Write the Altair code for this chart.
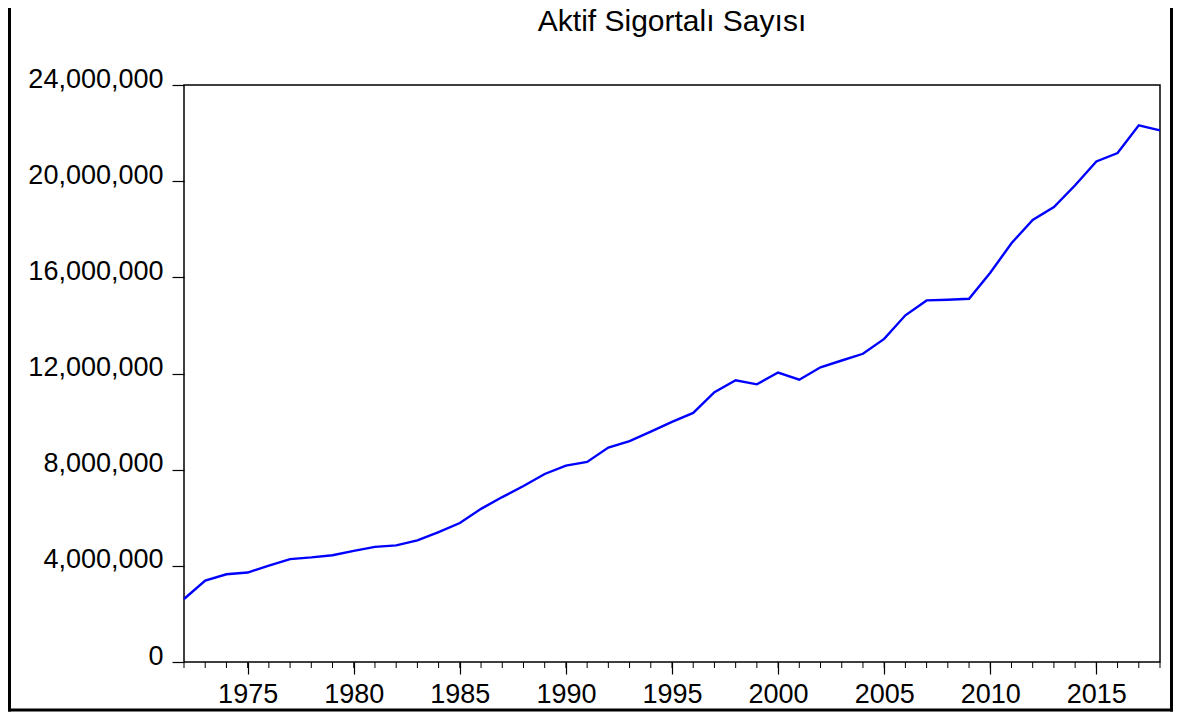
import altair as alt
import pandas as pd

# ---- data ----
years = [1972, 1973, 1974, 1975, 1976, 1977, 1978, 1979, 1980, 1981,
         1982, 1983, 1984, 1985, 1986, 1987, 1988, 1989, 1990, 1991,
         1992, 1993, 1994, 1995, 1996, 1997, 1998, 1999, 2000, 2001,
         2002, 2003, 2004, 2005, 2006, 2007, 2008, 2009, 2010, 2011,
         2012, 2013, 2014, 2015, 2016, 2017, 2018]
insured = [2620000, 3390000, 3650000, 3720000, 4010000, 4280000, 4350000, 4440000, 4620000, 4790000,
           4850000, 5060000, 5400000, 5780000, 6370000, 6860000, 7320000, 7820000, 8170000, 8320000,
           8920000, 9190000, 9580000, 9990000, 10360000, 11220000, 11720000, 11550000, 12040000, 11740000,
           12260000, 12540000, 12820000, 13440000, 14420000, 15040000, 15070000, 15110000, 16190000, 17420000,
           18390000, 18920000, 19830000, 20820000, 21170000, 22320000, 22110000]
major_years = [1975, 1980, 1985, 1990, 1995, 2000, 2005, 2010, 2015]
y_ticks = [0, 4000000, 8000000, 12000000, 16000000, 20000000, 24000000]
title_text = "Aktif Sigortalı Sayısı"

df = pd.DataFrame({"year": years, "value": insured})

W, H = 976, 577
PAD = {"left": 176, "top": 77, "right": 13, "bottom": 50}
FONT = "Liberation Sans"

x_scale = alt.Scale(domain=[1972, 2018], nice=False, zero=False)
y_scale = alt.Scale(domain=[0, 24000000], nice=False)

line = alt.Chart(df).mark_line(color="#0000FF", strokeWidth=2.4).encode(
    x=alt.X("year:Q", scale=x_scale, title=None,
            axis=alt.Axis(values=major_years, format="d", tickSize=12,
                          labelPadding=7, labelBaseline="top", grid=False,
                          domain=False)),
    y=alt.Y("value:Q", scale=y_scale, title=None,
            axis=alt.Axis(values=y_ticks, format=",.0f", tickSize=12,
                          labelPadding=9, labelOffset=-6, grid=False,
                          domain=False)),
)

minor = alt.Chart(df).mark_rule(color="black", strokeWidth=1).encode(
    x=alt.X("year:Q", scale=x_scale, title=None),
    y=alt.value(H),
    y2=alt.value(H + 6),
)

title = alt.Chart(pd.DataFrame({"t": [title_text]})).mark_text(
    font=FONT, fontSize=30, color="black", align="center", baseline="alphabetic"
).encode(
    text="t:N", x=alt.value(W / 2), y=alt.value(-54),
)

one = pd.DataFrame({"k": [0]})
frame_left = alt.Chart(one).mark_rule(color="black", strokeWidth=3).encode(
    x=alt.value(-174.5), y=alt.value(-78), y2=alt.value(626.5))
frame_right = alt.Chart(one).mark_rule(color="black", strokeWidth=3).encode(
    x=alt.value(987.5), y=alt.value(-78), y2=alt.value(626.5))
frame_bottom = alt.Chart(one).mark_rule(color="black", strokeWidth=3).encode(
    x=alt.value(-176), x2=alt.value(989), y=alt.value(625))

chart = alt.layer(line, minor, title, frame_left, frame_right, frame_bottom).properties(
    width=W, height=H,
    autosize=alt.AutoSizeParams(type="none"),
    padding=PAD,
).configure_view(
    stroke="black", strokeWidth=1.5
).configure_axis(
    labelFont=FONT, labelFontSize=27, labelColor="black",
    tickColor="black", tickWidth=1.2,
)

chart.save("out.html", embed_options={"renderer": "svg", "actions": False})
